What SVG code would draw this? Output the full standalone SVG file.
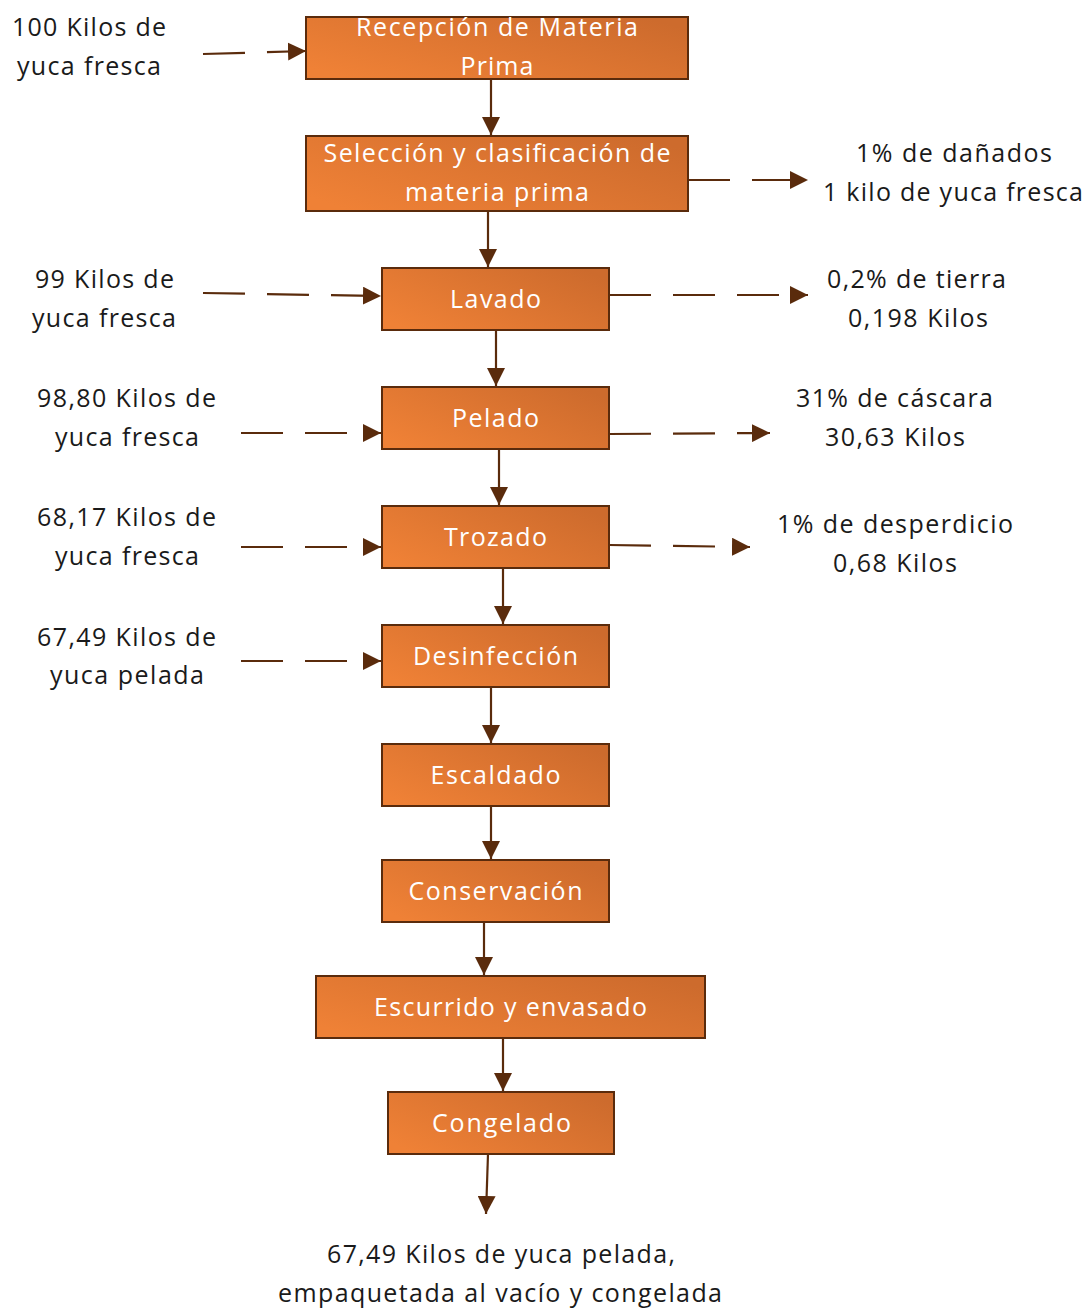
<svg xmlns="http://www.w3.org/2000/svg" width="1089" height="1308" viewBox="0 0 1089 1308">
<style>
.box{fill:url(#og);stroke:#5a2b0c;stroke-width:2}
.bt{font-family:"Open Sans","Liberation Sans",Arial,sans-serif;font-size:25px;fill:#ffffff;text-anchor:middle}
.lt{font-family:"Open Sans","Liberation Sans",Arial,sans-serif;font-size:25px;fill:#1a1a1a;text-anchor:middle}
.c{fill:none;stroke:#5a2b0c;stroke-width:2.2}
.d{stroke-dasharray:42 22}
</style>
<defs>
<linearGradient id="og" x1="0" y1="0.8" x2="1" y2="0.2">
<stop offset="0" stop-color="#EF8136"/>
<stop offset="1" stop-color="#CD6B2D"/>
</linearGradient>
<marker id="ah" markerUnits="userSpaceOnUse" markerWidth="18" markerHeight="18" refX="18" refY="9" orient="auto">
<path d="M0,0 L18,9 L0,18 Z" fill="#5a2b0c"/>
</marker>
</defs>
<g id="connectors">
<line class="c" x1="491" y1="79" x2="491" y2="135" marker-end="url(#ah)"/>
<line class="c" x1="488" y1="211" x2="488" y2="267" marker-end="url(#ah)"/>
<line class="c" x1="496" y1="330" x2="496" y2="386" marker-end="url(#ah)"/>
<line class="c" x1="499" y1="449" x2="499" y2="505" marker-end="url(#ah)"/>
<line class="c" x1="503" y1="568" x2="503" y2="624" marker-end="url(#ah)"/>
<line class="c" x1="491" y1="687" x2="491" y2="743" marker-end="url(#ah)"/>
<line class="c" x1="491" y1="806" x2="491" y2="859" marker-end="url(#ah)"/>
<line class="c" x1="484" y1="922" x2="484" y2="975" marker-end="url(#ah)"/>
<line class="c" x1="503" y1="1038" x2="503" y2="1091" marker-end="url(#ah)"/>
<line class="c" x1="488" y1="1154" x2="486" y2="1214" marker-end="url(#ah)"/>
<line class="c d" x1="203" y1="54" x2="306" y2="51" marker-end="url(#ah)"/>
<line class="c d" x1="688" y1="180" x2="808" y2="180" marker-end="url(#ah)"/>
<line class="c d" x1="203" y1="293" x2="381" y2="296" marker-end="url(#ah)"/>
<line class="c d" x1="609" y1="295" x2="808" y2="295" marker-end="url(#ah)"/>
<line class="c d" x1="241" y1="433" x2="381" y2="433" marker-end="url(#ah)"/>
<line class="c d" x1="609" y1="434" x2="770" y2="433" marker-end="url(#ah)"/>
<line class="c d" x1="241" y1="547" x2="381" y2="547" marker-end="url(#ah)"/>
<line class="c d" x1="609" y1="545" x2="750" y2="547" marker-end="url(#ah)"/>
<line class="c d" x1="241" y1="661" x2="381" y2="661" marker-end="url(#ah)"/>
</g>
<g id="n1"><rect class="box" x="306" y="17" width="382" height="62"/>
<text class="bt" x="497" y="36" textLength="282">Recepción de Materia</text>
<text class="bt" x="497" y="75" textLength="73">Prima</text></g>
<g id="n2"><rect class="box" x="306" y="136" width="382" height="75"/>
<text class="bt" x="497" y="162" textLength="347">Selección y clasificación de</text>
<text class="bt" x="497" y="201" textLength="184">materia prima</text></g>
<g id="n3"><rect class="box" x="382" y="268" width="227" height="62"/>
<text class="bt" x="495.5" y="308" textLength="91">Lavado</text></g>
<g id="n4"><rect class="box" x="382" y="387" width="227" height="62"/>
<text class="bt" x="495.5" y="427" textLength="87">Pelado</text></g>
<g id="n5"><rect class="box" x="382" y="506" width="227" height="62"/>
<text class="bt" x="495.5" y="546" textLength="103">Trozado</text></g>
<g id="n6"><rect class="box" x="382" y="625" width="227" height="62"/>
<text class="bt" x="495.5" y="665" textLength="165">Desinfección</text></g>
<g id="n7"><rect class="box" x="382" y="744" width="227" height="62"/>
<text class="bt" x="495.5" y="784" textLength="130">Escaldado</text></g>
<g id="n8"><rect class="box" x="382" y="860" width="227" height="62"/>
<text class="bt" x="495.5" y="900" textLength="174">Conservación</text></g>
<g id="n9"><rect class="box" x="316" y="976" width="389" height="62"/>
<text class="bt" x="510.5" y="1016" textLength="273">Escurrido y envasado</text></g>
<g id="n10"><rect class="box" x="388" y="1092" width="226" height="62"/>
<text class="bt" x="501.5" y="1132" textLength="139">Congelado</text></g>
<g id="labels">
<text class="lt" x="89" y="36" textLength="154">100 Kilos de</text>
<text class="lt" x="89" y="75" textLength="144">yuca fresca</text>
<text class="lt" x="104.5" y="288" textLength="139">99 Kilos de</text>
<text class="lt" x="104" y="327" textLength="144">yuca fresca</text>
<text class="lt" x="126.5" y="407" textLength="179">98,80 Kilos de</text>
<text class="lt" x="127" y="446" textLength="144">yuca fresca</text>
<text class="lt" x="126.5" y="526" textLength="179">68,17 Kilos de</text>
<text class="lt" x="127" y="565" textLength="144">yuca fresca</text>
<text class="lt" x="126.5" y="646" textLength="179">67,49 Kilos de</text>
<text class="lt" x="127" y="684" textLength="154">yuca pelada</text>
<text class="lt" x="954" y="162" textLength="196">1% de dañados</text>
<text class="lt" x="953" y="201" textLength="260">1 kilo de yuca fresca</text>
<text class="lt" x="916.5" y="288" textLength="179">0,2% de tierra</text>
<text class="lt" x="918" y="327" textLength="140">0,198 Kilos</text>
<text class="lt" x="894.5" y="407" textLength="197">31% de cáscara</text>
<text class="lt" x="895" y="446" textLength="140">30,63 Kilos</text>
<text class="lt" x="895" y="533" textLength="236">1% de desperdicio</text>
<text class="lt" x="895" y="572" textLength="124">0,68 Kilos</text>
<text class="lt" x="501" y="1263" textLength="348">67,49 Kilos de yuca pelada,</text>
<text class="lt" x="500" y="1302" textLength="444">empaquetada al vacío y congelada</text>
</g>
</svg>
